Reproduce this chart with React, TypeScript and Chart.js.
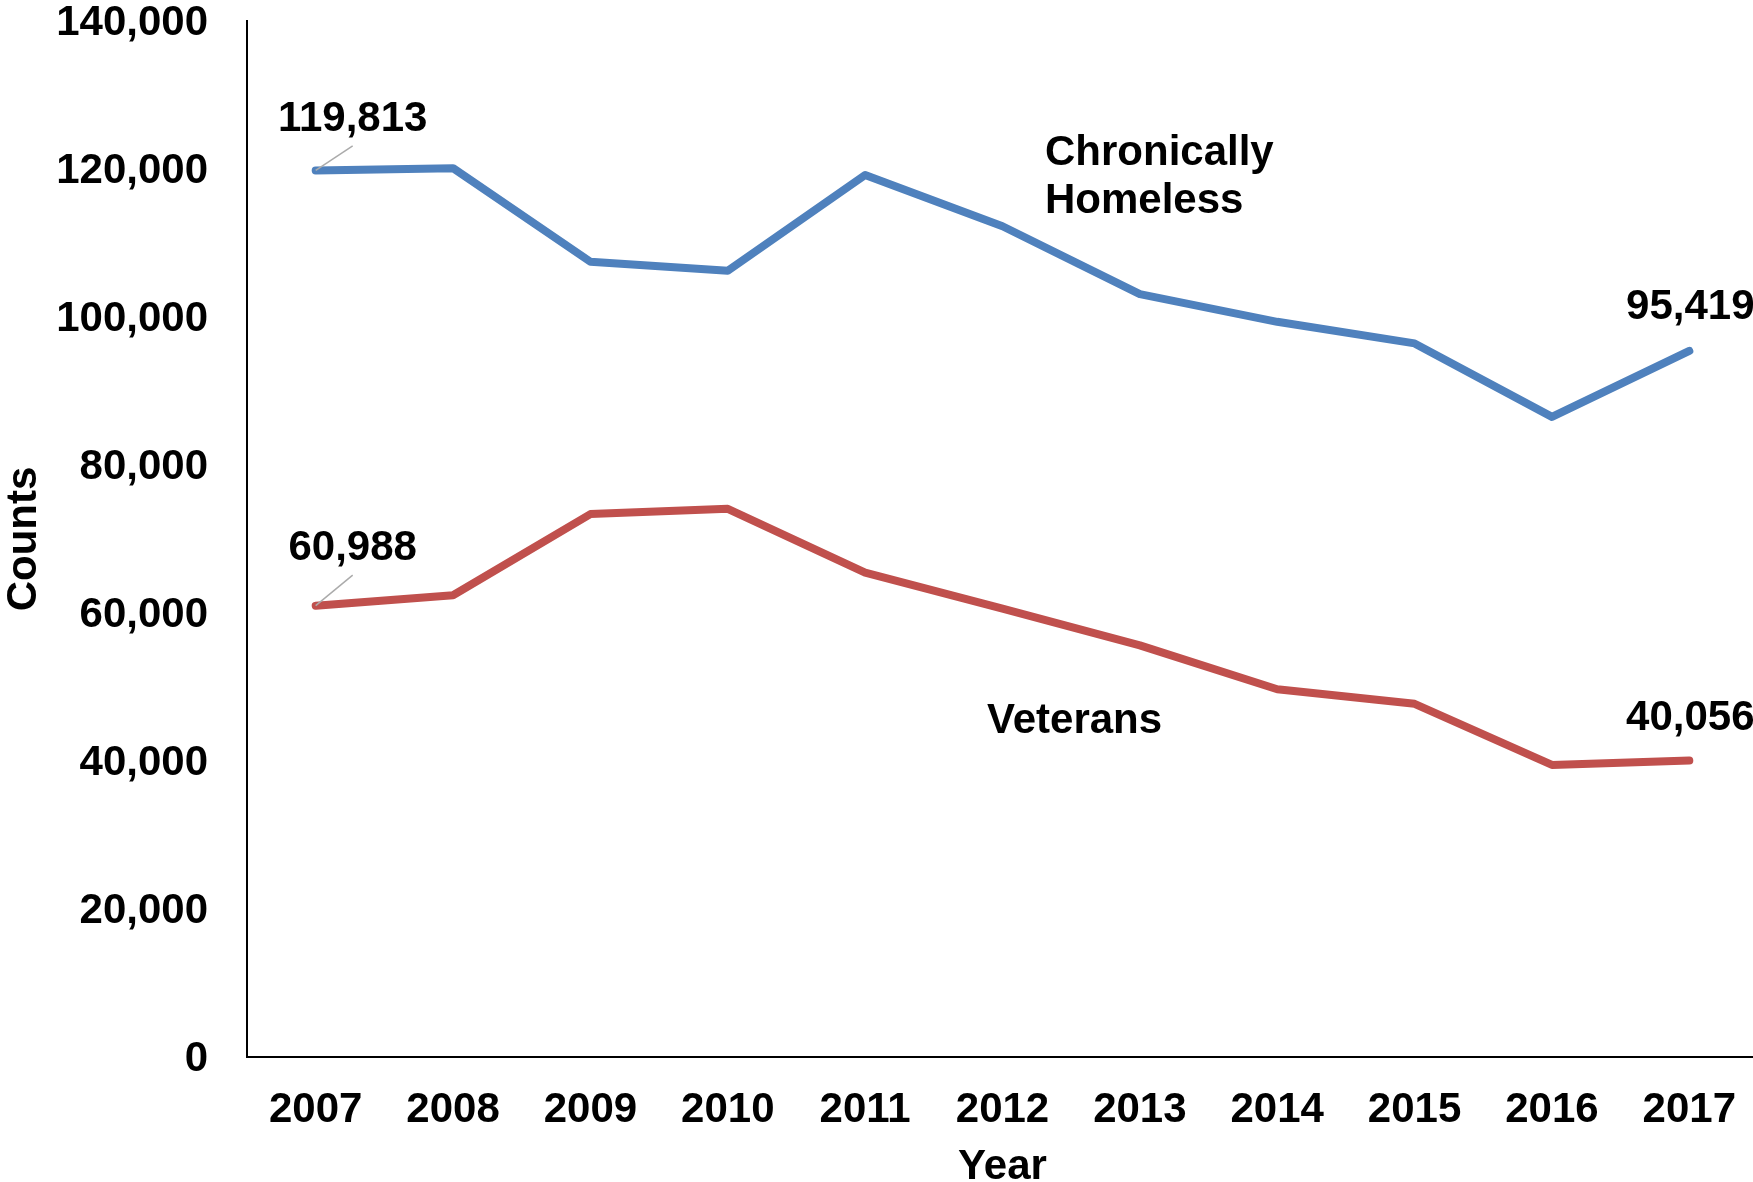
import React, { useEffect, useRef } from "react";
import { Chart, registerables } from "chart.js";

Chart.register(...registerables);

// ---- data ----
const years = ["2007", "2008", "2009", "2010", "2011", "2012", "2013", "2014", "2015", "2016", "2017"];
const chronicallyHomeless = [119813, 120115, 107470, 106250, 119200, 112260, 103100, 99350, 96430, 86500, 95419];
const veterans = [60988, 62400, 73367, 74087, 65455, 60579, 55619, 49689, 47725, 39471, 40056];
const seriesNames = ["Chronically Homeless", "Veterans"];
const yMin = 0;
const yMax = 140000;
const yStep = 20000;
const xTitle = "Year";
const yTitle = "Counts";

const FONT = '"Liberation Sans", Arial, Helvetica, sans-serif';
const BLUE = "#4F81BD";
const RED = "#C0504D";

const fmt = (v: number) => v.toLocaleString("en-US");

const labelPlugin = {
  id: "endLabels",
  afterDatasetsDraw(chart: any) {
    const ctx = chart.ctx as CanvasRenderingContext2D;
    ctx.save();
    ctx.font = `bold 42px ${FONT}`;
    ctx.fillStyle = "#000";
    const firstOffsets = [
      { dx: 37, dy: -52 },
      { dx: 37, dy: -58 },
    ];
    const lastOffsets = [-44, -43];
    chart.data.datasets.forEach((ds: any, i: number) => {
      const meta = chart.getDatasetMeta(i);
      const pts = meta.data;
      const first = pts[0];
      const last = pts[pts.length - 1];
      const fo = firstOffsets[i];
      const lx = first.x + fo.dx;
      const ly = first.y + fo.dy;
      // leader line
      ctx.strokeStyle = "#ABABAB";
      ctx.lineWidth = 1.5;
      ctx.beginPath();
      ctx.moveTo(first.x, first.y);
      ctx.lineTo(lx, ly + 27.5);
      ctx.stroke();
      ctx.textAlign = "center";
      ctx.textBaseline = "middle";
      ctx.fillText(fmt(ds.data[0]), lx, ly + 1);
      ctx.fillText(fmt(ds.data[ds.data.length - 1]), last.x + 1, last.y + lastOffsets[i] + 1);
    });
    // series name annotations
    const area = chart.chartArea;
    ctx.textAlign = "left";
    ctx.textBaseline = "alphabetic";
    const words = seriesNames[0].split(" ");
    ctx.fillText(words[0], area.left + 798, area.top + 144);
    ctx.fillText(words[1], area.left + 798, area.top + 192);
    ctx.fillText(seriesNames[1], area.left + 740, area.top + 712);
    ctx.restore();
  },
};

export default function App() {
  const ref = useRef<HTMLCanvasElement | null>(null);

  useEffect(() => {
    const canvas = ref.current;
    if (!canvas) return;
    const chart = new Chart(canvas, {
      type: "line",
      data: {
        labels: years,
        datasets: [
          {
            label: seriesNames[0],
            data: chronicallyHomeless,
            borderColor: BLUE,
            backgroundColor: BLUE,
            borderWidth: 8,
            pointRadius: 0,
            tension: 0,
            borderCapStyle: "round",
            borderJoinStyle: "round",
          },
          {
            label: seriesNames[1],
            data: veterans,
            borderColor: RED,
            backgroundColor: RED,
            borderWidth: 8,
            pointRadius: 0,
            tension: 0,
            borderCapStyle: "round",
            borderJoinStyle: "round",
          },
        ],
      },
      options: {
        responsive: false,
        animation: false,
        devicePixelRatio: 1,
        layout: { padding: { left: 0, top: 21, right: 2, bottom: 0 } },
        plugins: {
          legend: { display: false },
          tooltip: { enabled: false },
        },
        scales: {
          x: {
            type: "category",
            offset: true,
            grid: { display: false, drawTicks: false },
            border: { display: true, color: "#000", width: 2 },
            ticks: {
              color: "#000",
              font: { family: FONT, size: 42, weight: "bold" },
              padding: 28,
              maxRotation: 0,
              autoSkip: false,
            },
            title: {
              display: true,
              text: xTitle,
              color: "#000",
              font: { family: FONT, size: 42, weight: "bold", lineHeight: 1 },
              padding: { top: 0, bottom: 12 },
            },
            afterFit(scale: any) {
              scale.height = 143;
              scale.paddingLeft = 0;
              scale.paddingRight = 0;
            },
          },
          y: {
            min: yMin,
            max: yMax,
            grid: { display: false, drawTicks: false },
            border: { display: true, color: "#000", width: 2 },
            ticks: {
              stepSize: yStep,
              color: "#000",
              font: { family: FONT, size: 42, weight: "bold" },
              padding: 39,
              labelOffset: 2,
              callback: (v: any) => fmt(Number(v)),
            },
            title: {
              display: true,
              text: yTitle,
              color: "#000",
              font: { family: FONT, size: 42, weight: "bold", lineHeight: 1 },
              padding: { top: 3, bottom: 0 },
            },
            afterFit(scale: any) {
              scale.width = 247;
              scale.paddingTop = 0;
              scale.paddingBottom = 0;
            },
          },
        },
      } as any,
      plugins: [labelPlugin],
    });
    return () => chart.destroy();
  }, []);

  return (
    <div
      style={{
        position: "fixed",
        left: 0,
        top: 0,
        width: 1753,
        height: 1182,
        overflow: "hidden",
        background: "#fff",
      }}
    >
      <canvas ref={ref} width={1760} height={1200} style={{ display: "block" }} />
    </div>
  );
}
